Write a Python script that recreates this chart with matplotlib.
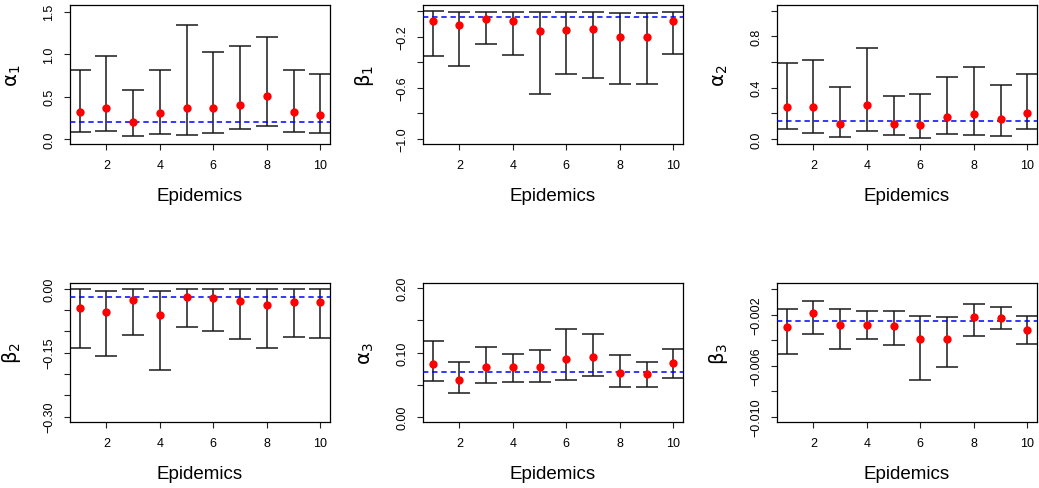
import matplotlib
matplotlib.use("Agg")
import matplotlib.pyplot as plt
import numpy as np

plt.rcParams['font.family'] = ['Liberation Sans', 'DejaVu Sans']
plt.rcParams['mathtext.fontset'] = 'dejavusans'

epidemics = np.arange(1, 11)

# posterior means and interval bounds
alpha1_est = [0.32, 0.365, 0.20, 0.30, 0.365, 0.365, 0.40, 0.51, 0.32, 0.28]
alpha1_lo = [0.086, 0.094, 0.031, 0.063, 0.051, 0.067, 0.118, 0.149, 0.086, 0.067]
alpha1_hi = [0.817, 0.98, 0.573, 0.81, 1.34, 1.03, 1.10, 1.205, 0.817, 0.765]
alpha1_true = 0.20

beta1_est = [-0.082, -0.108, -0.061, -0.082, -0.153, -0.148, -0.140, -0.203, -0.203, -0.077]
beta1_lo = [-0.354, -0.430, -0.255, -0.346, -0.652, -0.490, -0.524, -0.574, -0.574, -0.339]
beta1_hi = [0.001, -0.004, -0.004, -0.004, -0.007, -0.009, -0.009, -0.014, -0.014, -0.004]
beta1_true = -0.048

alpha2_est = [0.247, 0.247, 0.118, 0.262, 0.113, 0.105, 0.170, 0.194, 0.155, 0.202]
alpha2_lo = [0.079, 0.047, 0.013, 0.063, 0.029, 0.010, 0.039, 0.031, 0.024, 0.076]
alpha2_hi = [0.593, 0.616, 0.407, 0.711, 0.338, 0.351, 0.483, 0.561, 0.420, 0.506]
alpha2_true = 0.139

beta2_est = [-0.046, -0.056, -0.026, -0.061, -0.019, -0.023, -0.028, -0.038, -0.031, -0.031]
beta2_lo = [-0.139, -0.158, -0.109, -0.190, -0.089, -0.099, -0.117, -0.139, -0.114, -0.115]
beta2_hi = [-0.0016, -0.005, -0.0016, -0.005, 0.0, -0.001, -0.0016, -0.0016, 0.0, -0.001]
beta2_true = -0.0196

alpha3_est = [0.082, 0.058, 0.077, 0.077, 0.077, 0.090, 0.093, 0.068, 0.067, 0.084]
alpha3_lo = [0.055, 0.037, 0.052, 0.054, 0.054, 0.058, 0.063, 0.046, 0.047, 0.061]
alpha3_hi = [0.118, 0.086, 0.109, 0.098, 0.104, 0.136, 0.129, 0.096, 0.086, 0.106]
alpha3_true = 0.0703

beta3_est = [-0.0030, -0.0019, -0.0028, -0.0028, -0.0029, -0.0039, -0.0039, -0.0022, -0.0023, -0.0032]
beta3_lo = [-0.0051, -0.0035, -0.0047, -0.0039, -0.0044, -0.0071, -0.0061, -0.0037, -0.0031, -0.0043]
beta3_hi = [-0.0016, -0.00095, -0.0016, -0.0017, -0.0017, -0.0021, -0.0022, -0.0012, -0.0014, -0.0021]
beta3_true = -0.00247

M = '\u2212'
panels = [
    (r'$\mathrm{\alpha}_1$', alpha1_est, alpha1_lo, alpha1_hi, alpha1_true,
     [0, 0.5, 1.0, 1.5], ['0.0', '0.5', '1.0', '1.5'], (-0.06, 1.58)),
    (r'$\mathrm{\beta}_1$', beta1_est, beta1_lo, beta1_hi, beta1_true,
     [0, -0.2, -0.4, -0.6, -0.8, -1.0], ['', M + '0.2', '', M + '0.6', '', M + '1.0'], (-1.04, 0.047)),
    (r'$\mathrm{\alpha}_2$', alpha2_est, alpha2_lo, alpha2_hi, alpha2_true,
     [0, 0.2, 0.4, 0.6, 0.8, 1.0], ['0.0', '', '0.4', '', '0.8', ''], (-0.04, 1.044)),
    (r'$\mathrm{\beta}_2$', beta2_est, beta2_lo, beta2_hi, beta2_true,
     [0, -0.05, -0.10, -0.15, -0.20, -0.25, -0.30],
     ['0.00', '', '', M + '0.15', '', '', M + '0.30'], (-0.3125, 0.013)),
    (r'$\mathrm{\alpha}_3$', alpha3_est, alpha3_lo, alpha3_hi, alpha3_true,
     [0, 0.05, 0.10, 0.15, 0.20], ['0.00', '', '0.10', '', '0.20'], (-0.008, 0.208)),
    (r'$\mathrm{\beta}_3$', beta3_est, beta3_lo, beta3_hi, beta3_true,
     [0, -0.002, -0.004, -0.006, -0.008, -0.010],
     ['', M + '0.002', '', M + '0.006', '', M + '0.010'], (-0.0104, 0.00047)),
]

W, H = 1039, 489
fig = plt.figure(figsize=(W / 100, H / 100), dpi=100)

# box positions in pixels: left, top, width, height
lefts = [70, 423, 777]
tops = [6, 284]
bw, bh = 260, 139

for i, (lab, est, lo, hi, true, yt, ytl, ylim) in enumerate(panels):
    r, c = divmod(i, 3)
    ax = fig.add_axes([lefts[c] / W, 1 - (tops[r] + bh) / H, bw / W, bh / H])
    est = np.array(est)
    err = [est - np.array(lo), np.array(hi) - est]
    ax.errorbar(epidemics, est, yerr=err, fmt='none', ecolor='#1a1a1a',
                elinewidth=1.1, capsize=8.2, capthick=1.1, zorder=2)
    ax.axhline(true, color='#0000ff', lw=1.1, dashes=(3.5, 2.5), zorder=3)
    ax.plot(epidemics, est, 'o', color='#ff0000', ms=6, mec='none', zorder=4)
    ax.set_xlim(0.64, 10.36)
    ax.set_ylim(*ylim)
    ax.set_xticks([2, 4, 6, 8, 10])
    ax.set_yticks(yt)
    ax.set_yticklabels(ytl)
    ax.tick_params(axis='both', direction='out', length=4.5, width=0.8,
                   labelsize=9, color='#222222')
    ax.tick_params(axis='x', pad=6)
    ax.tick_params(axis='y', pad=6, labelrotation=90)
    for t in ax.get_yticklabels():
        t.set_va('center')
    for s in ax.spines.values():
        s.set_linewidth(0.9)
    ax.set_xlabel('Epidemics', fontsize=13.5)
    ax.xaxis.set_label_coords(0.5, -43 / bh)
    ax.set_ylabel(lab, fontsize=14)
    ax.yaxis.set_label_coords(-47 / bw, 0.5)

fig.savefig('out.png', dpi=100)
